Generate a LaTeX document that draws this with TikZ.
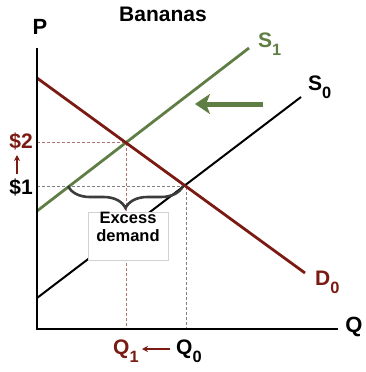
\documentclass[tikz,border=0pt]{standalone}
\usepackage{fontspec}
\setmainfont{Liberation Sans}
\usepackage{graphicx}
\usetikzlibrary{positioning, arrows.meta, calc, decorations.pathreplacing}
\definecolor{maroon}{HTML}{7A1A12}
\definecolor{olive}{HTML}{5F7E44}
\definecolor{bracegray}{HTML}{3C3C3C}
\newcommand{\lowsub}[1]{\raisebox{-0.75ex}{\scalebox{0.78}{#1}}}
\newcommand{\fs}[1]{\fontsize{#1}{#1}\selectfont\bfseries}

\begin{document}
\begin{tikzpicture}[x=1pt, y=-1pt,
  lab/.style={inner sep=0pt, font=\fs{21}},
  curve/.style={line width=2.8pt},
  guide/.style={line width=0.8pt, dash pattern=on 3pt off 2pt},
  arr/.style={-{Stealth[length=6pt, width=6pt]}, line width=1.6pt, maroon}]
  \useasboundingbox (0,0) rectangle (366,372);
  % axes and points
  \coordinate (O) at (37,329);
  \coordinate (ytop) at (37,48);
  \coordinate (xend) at (338,329);
  \coordinate (dA) at (37,78);   \coordinate (dB) at (305,273);
  \coordinate (sA) at (37,211);  \coordinate (sB) at (249,48);
  \coordinate (tA) at (37,298);  \coordinate (tB) at (301,97);
  \coordinate (e1) at (126,142); % new equilibrium
  \coordinate (e0) at (186,186); % old equilibrium
  % guides
  \draw[guide, maroon!60] (e1 -| O) -- (e1) -- (e1 |- O);
  \draw[guide, gray] (e0 -| O) -- (e0) -- (e0 |- O);
  % curves
  \draw[line width=2pt] (tA) -- (tB);
  \draw[curve, olive] (sA) -- (sB);
  \draw[curve, maroon] (dA) -- (dB);
  \draw[line width=2.6pt] (ytop) -- (O) -- (xend);
  % shift arrow
  \coordinate (shR) at (263,104);
  \coordinate (shL) at (195,104);
  \draw[olive, line width=5pt, -{Stealth[length=15pt, width=20pt, inset=4pt]}] (shR) -- (shL);
  % excess demand
  \node[draw=gray!35, fill=white, line width=0.6pt, minimum width=80pt, minimum height=48pt,
        align=center, inner sep=0pt, font=\fs{16.5}, text height=12pt] (xs) at (128,236)
        {Excess\\[2pt]demand};
  \draw[bracegray, line width=2.6pt, decorate,
        decoration={brace, mirror, amplitude=22pt, aspect=0.5}]
        (68,186) coordinate (brL) -- (183,186) coordinate (brR);
  % labels
  \node[lab] (title) at (163,14) {Bananas};
  \node[lab, font=\fs{22}] (plab) at (40,27) {P};
  \node[lab, font=\fs{22}] (qlab) at (354,327) {Q};
  \node[lab, olive, anchor=base west] (s1) at (258,47) {S\lowsub{1}};
  \node[lab, anchor=base west] (s0) at (308,90) {S\lowsub{0}};
  \node[lab, maroon, anchor=base west] (d0) at (315,285) {D\lowsub{0}};
  \node[lab, maroon, anchor=base east] (p2) at (33,148) {\$2};
  \node[lab, anchor=base east] (p1) at (33,194) {\$1};
  \node[lab, maroon, anchor=base west] (q1) at (113,354) {Q\lowsub{1}};
  \node[lab, anchor=base west] (q0) at (176,354) {Q\lowsub{0}};
  \coordinate (upB) at (17,174);
  \coordinate (upT) at (17,155);
  \coordinate (lfR) at (170,349);
  \coordinate (lfL) at (142,349);
  \draw[arr] (upB) -- (upT);
  \draw[arr] (lfR) -- (lfL);
\end{tikzpicture}
\end{document}
